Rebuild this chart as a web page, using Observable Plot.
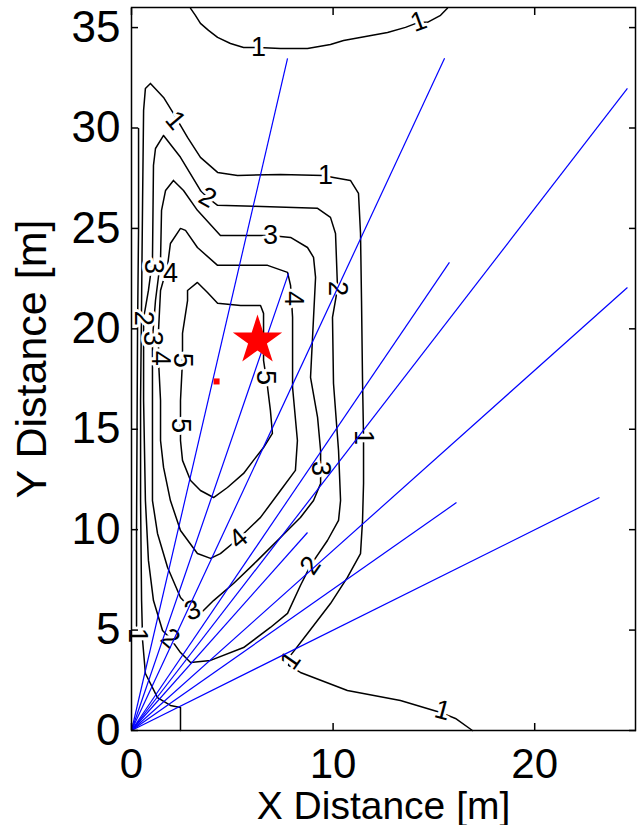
<!DOCTYPE html>
<html><head><meta charset="utf-8">
<script src="https://cdn.jsdelivr.net/npm/d3@7"></script>
<script src="https://cdn.jsdelivr.net/npm/@observablehq/plot@0.6"></script>
<style>body{margin:0;background:#fff}svg{display:block}</style>
</head><body><div id="chart"></div>
<script>
const xTicks = [0, 10, 20];
const yTicks = [0, 5, 10, 15, 20, 25, 30, 35];
const xLabel = "X Distance [m]";
const yLabel = "Y Distance [m]";

// contour polylines [x, y] in metres
const contour1Top = [[2.93,35.96],[3.17,35.61],[3.42,35.21],[3.82,34.86],[4.27,34.51],[4.91,34.21],[5.56,34.01],[6.30,34.01],[7.39,33.96],[8.73,33.96],[9.87,34.16],[10.52,34.36],[11.61,34.56],[12.70,34.76],[13.59,35.01],[14.24,35.26],[14.68,35.26],[15.33,35.61],[15.67,35.96]];
const contour1 = [[16.91,0],[16.07,0.60],[15.33,0.90],[13.34,1.49],[10.71,1.99],[8.38,2.89],[7.79,3.24],[7.89,3.74],[8.73,4.83],[9.87,6.32],[10.71,7.62],[11.36,8.81],[11.46,10.46],[11.51,12.30],[11.51,14.59],[11.46,17.43],[11.41,21.41],[11.36,24.75],[11.26,26.74],[10.86,27.39],[10.02,27.54],[9.52,27.64],[7.39,27.69],[5.26,27.64],[4.27,27.79],[3.42,28.54],[2.78,29.53],[2.08,30.73],[1.59,31.52],[0.94,32.22],[0.69,31.97],[0.60,30.88],[0.55,26.39],[0.50,21.41],[0.45,16.43],[0.45,11.45],[0.50,6.47],[0.55,4.48],[0.69,2.84],[1.29,1.64],[1.93,1.25],[2.43,1.15],[2.43,0]];
const contourEdge = [[0.35,29.98],[0.35,25.0],[0.30,20.0],[0.25,10.0],[0.25,5.2]];
const contour2 = [[1.59,29.63],[1.19,28.98],[1.09,28.14],[1.04,23.41],[0.84,21.91],[0.60,20.52],[0.60,16.43],[0.69,11.45],[0.84,8.47],[1.09,6.47],[1.54,4.98],[1.93,4.58],[2.43,3.88],[2.93,3.39],[3.92,3.49],[5.56,4.13],[6.89,5.13],[7.74,5.83],[8.38,7.22],[8.88,8.22],[9.72,9.46],[10.27,10.46],[10.37,11.45],[10.27,13.94],[10.02,17.28],[9.97,20.57],[10.22,22.01],[10.12,24.75],[9.87,25.55],[9.23,26.00],[6.05,26.10],[4.27,26.15],[3.77,26.54],[3.42,26.89],[2.43,28.54],[1.59,29.63]];
const contour3 = [[2.08,27.39],[1.69,26.89],[1.49,25.90],[1.44,23.41],[1.19,21.41],[1.04,19.52],[1.04,16.43],[1.04,11.45],[1.29,9.81],[1.79,8.12],[2.43,6.62],[3.03,5.98],[3.42,5.83],[4.07,6.47],[5.06,7.32],[6.25,8.47],[7.39,9.61],[8.38,10.61],[9.03,11.45],[9.38,12.30],[9.38,13.05],[9.38,13.94],[9.23,15.59],[8.88,17.58],[8.98,19.57],[9.13,22.56],[9.03,23.56],[8.73,24.05],[7.89,24.55],[6.89,24.65],[4.41,24.65],[3.27,25.90],[2.58,26.89],[2.08,27.39]];
const contour4 = [[2.43,25.0],[1.93,24.25],[1.79,23.16],[1.44,21.91],[1.34,19.92],[1.34,18.43],[1.44,16.43],[1.44,14.44],[1.59,13.10],[1.93,11.45],[2.43,9.96],[3.27,8.81],[3.92,8.57],[4.41,8.81],[5.31,9.56],[6.40,10.61],[7.39,11.95],[8.13,12.95],[8.23,14.44],[7.99,17.08],[7.99,20.57],[7.89,22.16],[7.74,22.81],[6.75,23.16],[4.27,23.16],[3.27,24.05],[2.68,24.90],[2.43,25.0]];
const contour5 = [[2.78,21.91],[3.27,22.31],[3.77,21.81],[4.27,21.27],[5.41,21.16],[6.40,21.16],[6.55,20.77],[6.55,19.42],[6.55,18.43],[6.75,17.08],[6.89,15.94],[6.99,14.79],[6.55,14.09],[6.05,13.45],[5.56,12.80],[4.76,12.10],[4.07,11.60],[3.42,11.95],[2.93,12.45],[2.53,13.45],[2.43,14.44],[2.43,16.43],[2.53,18.43],[2.53,19.77],[2.78,21.41],[2.78,21.91]];

// inline contour labels: value, x, y, angle of the text
const labelText  = ["1","1","1","1","1","1","1","1","2","2","2","2","2","3","3","3","3","3","4","4","4","4","5","5","5"];
const labelX     = [6.30,14.24,2.18,9.62,11.51,7.89,15.43,0.30,3.77,10.22,8.88,1.93,0.60,6.89,9.38,3.03,1.04,1.10,8.04,5.31,1.44,1.93,6.65,2.43,2.53];
const labelY     = [34.01,35.30,30.38,27.64,14.59,3.49,1.00,4.73,26.54,22.01,8.22,4.58,20.52,24.65,13.05,5.98,19.52,23.10,21.51,9.56,18.53,22.76,17.58,15.19,18.43];
const labelAngle = [0,-20,50,0,90,-55,15,90,30,90,-55,40,90,0,90,-20,90,90,90,-40,90,0,90,90,90];

// rays from the origin: end points
const rayOrigin = [0, 0];
const rayEndX = [7.74, 7.79, 15.53, 15.77, 24.60, 8.73, 24.60, 16.12, 23.21];
const rayEndY = [33.47, 22.76, 33.47, 23.31, 31.97, 9.86, 22.06, 11.35, 11.60];

const starPoint = [[6.25, 19.42]];
const squarePoint = [[4.22, 17.38]];

const contours = {contour1Top, contour1, contourEdge, contour2, contour3, contour4, contour5};
const contourRows = Object.entries(contours).flatMap(([id, pts]) => pts.map(([x, y]) => ({id, x, y})));
const labels = labelText.map((t, i) => ({t, x: labelX[i], y: labelY[i], a: labelAngle[i]}));
const rays = rayEndX.map((x, i) => ({x, y: rayEndY[i]}));

const font = "'Liberation Sans', Arial, Helvetica, sans-serif";
const chart = Plot.plot({
  width: 637, height: 825,
  marginLeft: 131, marginRight: 2, marginTop: 7, marginBottom: 95,
  x: {domain: [0, 25]},
  y: {domain: [0, 36]},
  style: {fontFamily: font, background: "white", color: "black"},
  marks: [
    Plot.line(contourRows, {x: "x", y: "y", z: "id", stroke: "black", strokeWidth: 1.5, curve: "linear"}),
    Plot.text(labels, {x: "x", y: "y", text: "t", rotate: "a", fontSize: 27, fill: "black", stroke: "white", strokeWidth: 6, paintOrder: "stroke"}),
    Plot.link(rays, {x1: () => rayOrigin[0], y1: () => rayOrigin[1], x2: "x", y2: "y", stroke: "#0000ff", strokeWidth: 1.2}),
    Plot.dot(starPoint, {x: d => d[0], y: d => d[1], symbol: "star", r: 15.5, fill: "#ff0000", stroke: "none"}),
    Plot.dot(squarePoint, {x: d => d[0], y: d => d[1], symbol: "square", r: 3.4, fill: "#ff0000", stroke: "none"}),
    Plot.frame({stroke: "black", strokeWidth: 1.5}),
    Plot.axisX(xTicks, {anchor: "bottom", tickSize: -7, tickFormat: () => "", label: null, strokeWidth: 1.5}),
    Plot.axisX(xTicks, {anchor: "top", tickSize: -7, tickFormat: () => "", label: null, strokeWidth: 1.5}),
    Plot.axisY(yTicks, {anchor: "left", tickSize: 0 - 7, tickFormat: () => "", label: null, strokeWidth: 1.5}),
    Plot.axisY(yTicks, {anchor: "right", tickSize: -7, tickFormat: () => "", label: null, strokeWidth: 1.5}),
    Plot.axisX(xTicks, {anchor: "bottom", tickSize: 0, tickPadding: 18, fontSize: 42, label: xLabel, labelAnchor: "center", labelArrow: "none", labelOffset: 88, tickFormat: d => String(d)}),
    Plot.axisY(yTicks, {anchor: "left", tickSize: 0, tickPadding: 11, fontSize: 44, label: yLabel, labelAnchor: "center", labelArrow: "none", labelOffset: 116, tickFormat: d => String(d)})
  ]
});
chart.querySelectorAll('[aria-label="x-axis label"] text').forEach(t => t.setAttribute("font-size", 39));
chart.querySelectorAll('[aria-label="y-axis label"] text').forEach(t => {
  t.setAttribute("font-size", 43);
  const tr = t.getAttribute("transform") || "";
  t.setAttribute("transform", tr.replace(/translate\(([^,\s]+)[,\s]+([^)]+)\)/, (m, a, b) => `translate(${a},${+b - 10})`));
});
document.getElementById("chart").appendChild(chart);
</script>
</body></html>
